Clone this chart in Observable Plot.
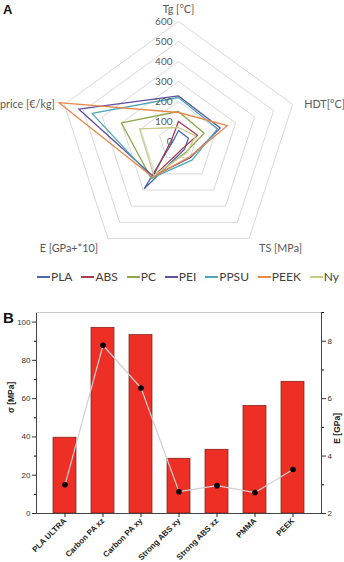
<!DOCTYPE html>
<html>
<head>
<meta charset="utf-8">
<script src="https://cdn.jsdelivr.net/npm/d3@7"></script>
<script src="https://cdn.jsdelivr.net/npm/@observablehq/plot@0.6"></script>
<style>
  html, body { margin: 0; padding: 0; background: #fff; }
  #wrap { position: relative; width: 344px; height: 562px; overflow: hidden; }
  .panel { position: absolute; left: 0; }
  .tag { position: absolute; font-family: "Liberation Sans", Arial, sans-serif; font-weight: bold; color: #111; line-height: 1; }
  #legend { position: absolute; left: 37px; top: 270px; width: 302px; display: flex; justify-content: space-between;
            font-family: Lato, "Open Sans", sans-serif; font-size: 12px; color: #404040; line-height: 14px; }
  #legend span.item { display: flex; align-items: center; white-space: nowrap; }
  #legend i { display: inline-block; width: 13px; height: 2px; margin-right: 1px; }
</style>
</head>
<body>
<div id="wrap">
  <div id="A" class="panel" style="top:0"></div>
  <div class="tag" style="left:3px;top:3px;font-size:13px">A</div>
  <div id="legend"></div>
  <div id="B" class="panel" style="top:295px"></div>
  <div class="tag" style="left:3px;top:310px;font-size:15px">B</div>
</div>
<script>
// ---------- Panel A data (radar) ----------
const radarAxes = ["Tg [°C]", "HDT[°C]", "TS [MPa]", "E [GPa+*10]", "price [€/kg]"];
const radarTicks = [0, 100, 200, 300, 400, 500, 600];
const materials = ["PLA", "ABS", "PC", "PEI", "PPSU", "PEEK", "Ny"];
const materialColors = ["#4a68b0", "#a8404f", "#8ea64a", "#5e4f9f", "#4aa8b8", "#e8884a", "#c8cb8a"];
const PLA  = [55, 52, 50, 290, 25];
const ABS  = [100, 100, 40, 220, 35];
const PC   = [150, 135, 65, 230, 300];
const PEI  = [228, 220, 100, 215, 525];
const PPSU = [220, 205, 115, 225, 455];
const PEEK = [145, 258, 95, 220, 630];
const Ny   = [70, 90, 70, 210, 205];
const seriesValues = [PLA, ABS, PC, PEI, PPSU, PEEK, Ny];

// ---------- Panel B data (bars + E) ----------
const samples = ["PLA ULTRA", "Carbon PA xz", "Carbon PA xy", "Strong ABS xy", "Strong ABS xz", "PMMA", "PEEK"];
const sigma = [39.6, 97, 93.2, 28.6, 33.3, 56.2, 68.8];
const modulus = [3.0, 7.86, 6.37, 2.76, 2.97, 2.73, 3.53];
const sigmaTicks = [0, 20, 40, 60, 80, 100];
const sigmaMinor = [10, 30, 50, 70, 90];
const eTicks = [2, 4, 6, 8];
const eMinor = [3, 5, 7, 9];

// ---------- Radar ----------
const ang = i => i * 2 * Math.PI / 5;
const pt = (i, v) => ({x: v * Math.sin(ang(i)), y: v * Math.cos(ang(i))});
const loop = [0, 1, 2, 3, 4, 0];
const rings = radarTicks.filter(t => t > 0).flatMap(t => loop.map(i => ({ring: t, ...pt(i, t)})));
const lines = materials.flatMap((m, k) => loop.map(i => ({series: m, ...pt(i, seriesValues[k][i])})));
const ticks = radarTicks.map(t => ({label: String(t), ...pt(0, t)}));
const px = 5; // data units per pixel
const labelOffsets = [[0, -12, "middle"], [32, 0, "middle"], [10, 10, "start"], [-10, 10, "end"], [-37, 0, "middle"]];
const axisLabelMarks = radarAxes.map((name, i) => {
  const v = pt(i, 600);
  const [dx, dy, anchor] = labelOffsets[i];
  return Plot.text([{name, x: v.x, y: v.y}], {x: "x", y: "y", text: "name", dx, dy, textAnchor: anchor,
    fill: "#595959", fontSize: 10.8});
});

const radar = Plot.plot({
  width: 344, height: 265, margin: 0,
  style: {fontFamily: "Lato, 'Open Sans', sans-serif", background: "white"},
  x: {domain: [-178 * px, (344 - 178) * px], axis: null},
  y: {domain: [-(265 - 141) * px, 141 * px], axis: null},
  color: {domain: materials, range: materialColors},
  marks: [
    Plot.line(rings, {x: "x", y: "y", z: "ring", stroke: "#d9d9d9", strokeWidth: 1}),
    Plot.line(lines, {x: "x", y: "y", z: "series", stroke: "series", strokeWidth: 1.3}),
    Plot.text(ticks, {x: "x", y: "y", text: "label", dx: -6, textAnchor: "end", fill: "#595959", fontSize: 10}),
    ...axisLabelMarks
  ]
});
document.getElementById("A").appendChild(radar);

// legend
const leg = document.getElementById("legend");
materials.forEach((m, k) => {
  const s = document.createElement("span");
  s.className = "item";
  s.innerHTML = `<i style="background:${materialColors[k]}"></i>${m}`;
  leg.appendChild(s);
});

// ---------- Bars ----------
const yMax = 105;
const eScale = d3.scaleLinear().domain([2, 9]).range([0, yMax]);
const rows = samples.map((s, i) => ({sample: s, sigma: sigma[i], e: eScale(modulus[i])}));

const bars = Plot.plot({
  width: 344, height: 267,
  marginTop: 17, marginBottom: 49, marginLeft: 36, marginRight: 23,
  style: {fontFamily: "'Liberation Sans', Arial, sans-serif", background: "white"},
  x: {domain: samples, padding: 0.4, axis: null},
  y: {domain: [0, yMax], axis: null},
  marks: [
    Plot.barY(rows, {x: "sample", y: "sigma", fill: "#ee2f25", stroke: "#7a1a14", strokeWidth: 0.7}),
    Plot.line(rows, {x: "sample", y: "e", stroke: "#cfcfcf", strokeWidth: 1.2}),
    Plot.dot(rows, {x: "sample", y: "e", r: 2.8, fill: "#000"}),
    Plot.frame({stroke: "#444", strokeWidth: 1}),
    Plot.ruleY([yMax], {stroke: "#c8c8c8", strokeWidth: 1}),
    Plot.axisY({anchor: "left", ticks: sigmaTicks, tickSize: 4, tickPadding: 2, fontSize: 8, color: "#333", label: null}),
    Plot.axisY({anchor: "left", ticks: sigmaMinor, tickSize: 2, tickFormat: () => "", label: null}),
    Plot.axisY({anchor: "right", ticks: eTicks.map(eScale), tickFormat: d => String(Math.round(eScale.invert(d))),
      tickSize: 4, tickPadding: 2, fontSize: 8, color: "#333", label: null}),
    Plot.axisY({anchor: "right", ticks: eMinor.map(eScale), tickSize: 2, tickFormat: () => "", label: null}),
    Plot.axisX({anchor: "bottom", tickSize: 4, tickPadding: 2, tickRotate: -45, fontSize: 8, fontWeight: "bold",
      color: "#222", label: null}),
    Plot.text(["σ [MPa]"], {frameAnchor: "left", rotate: -90, dx: -25, fontSize: 8.5, fontWeight: "bold", fill: "#222"}),
    Plot.text(["E [GPa]"], {frameAnchor: "right", rotate: -90, dx: 16, fontSize: 8.5, fontWeight: "bold", fill: "#222"})
  ]
});
document.getElementById("B").appendChild(bars);
</script>
</body>
</html>
